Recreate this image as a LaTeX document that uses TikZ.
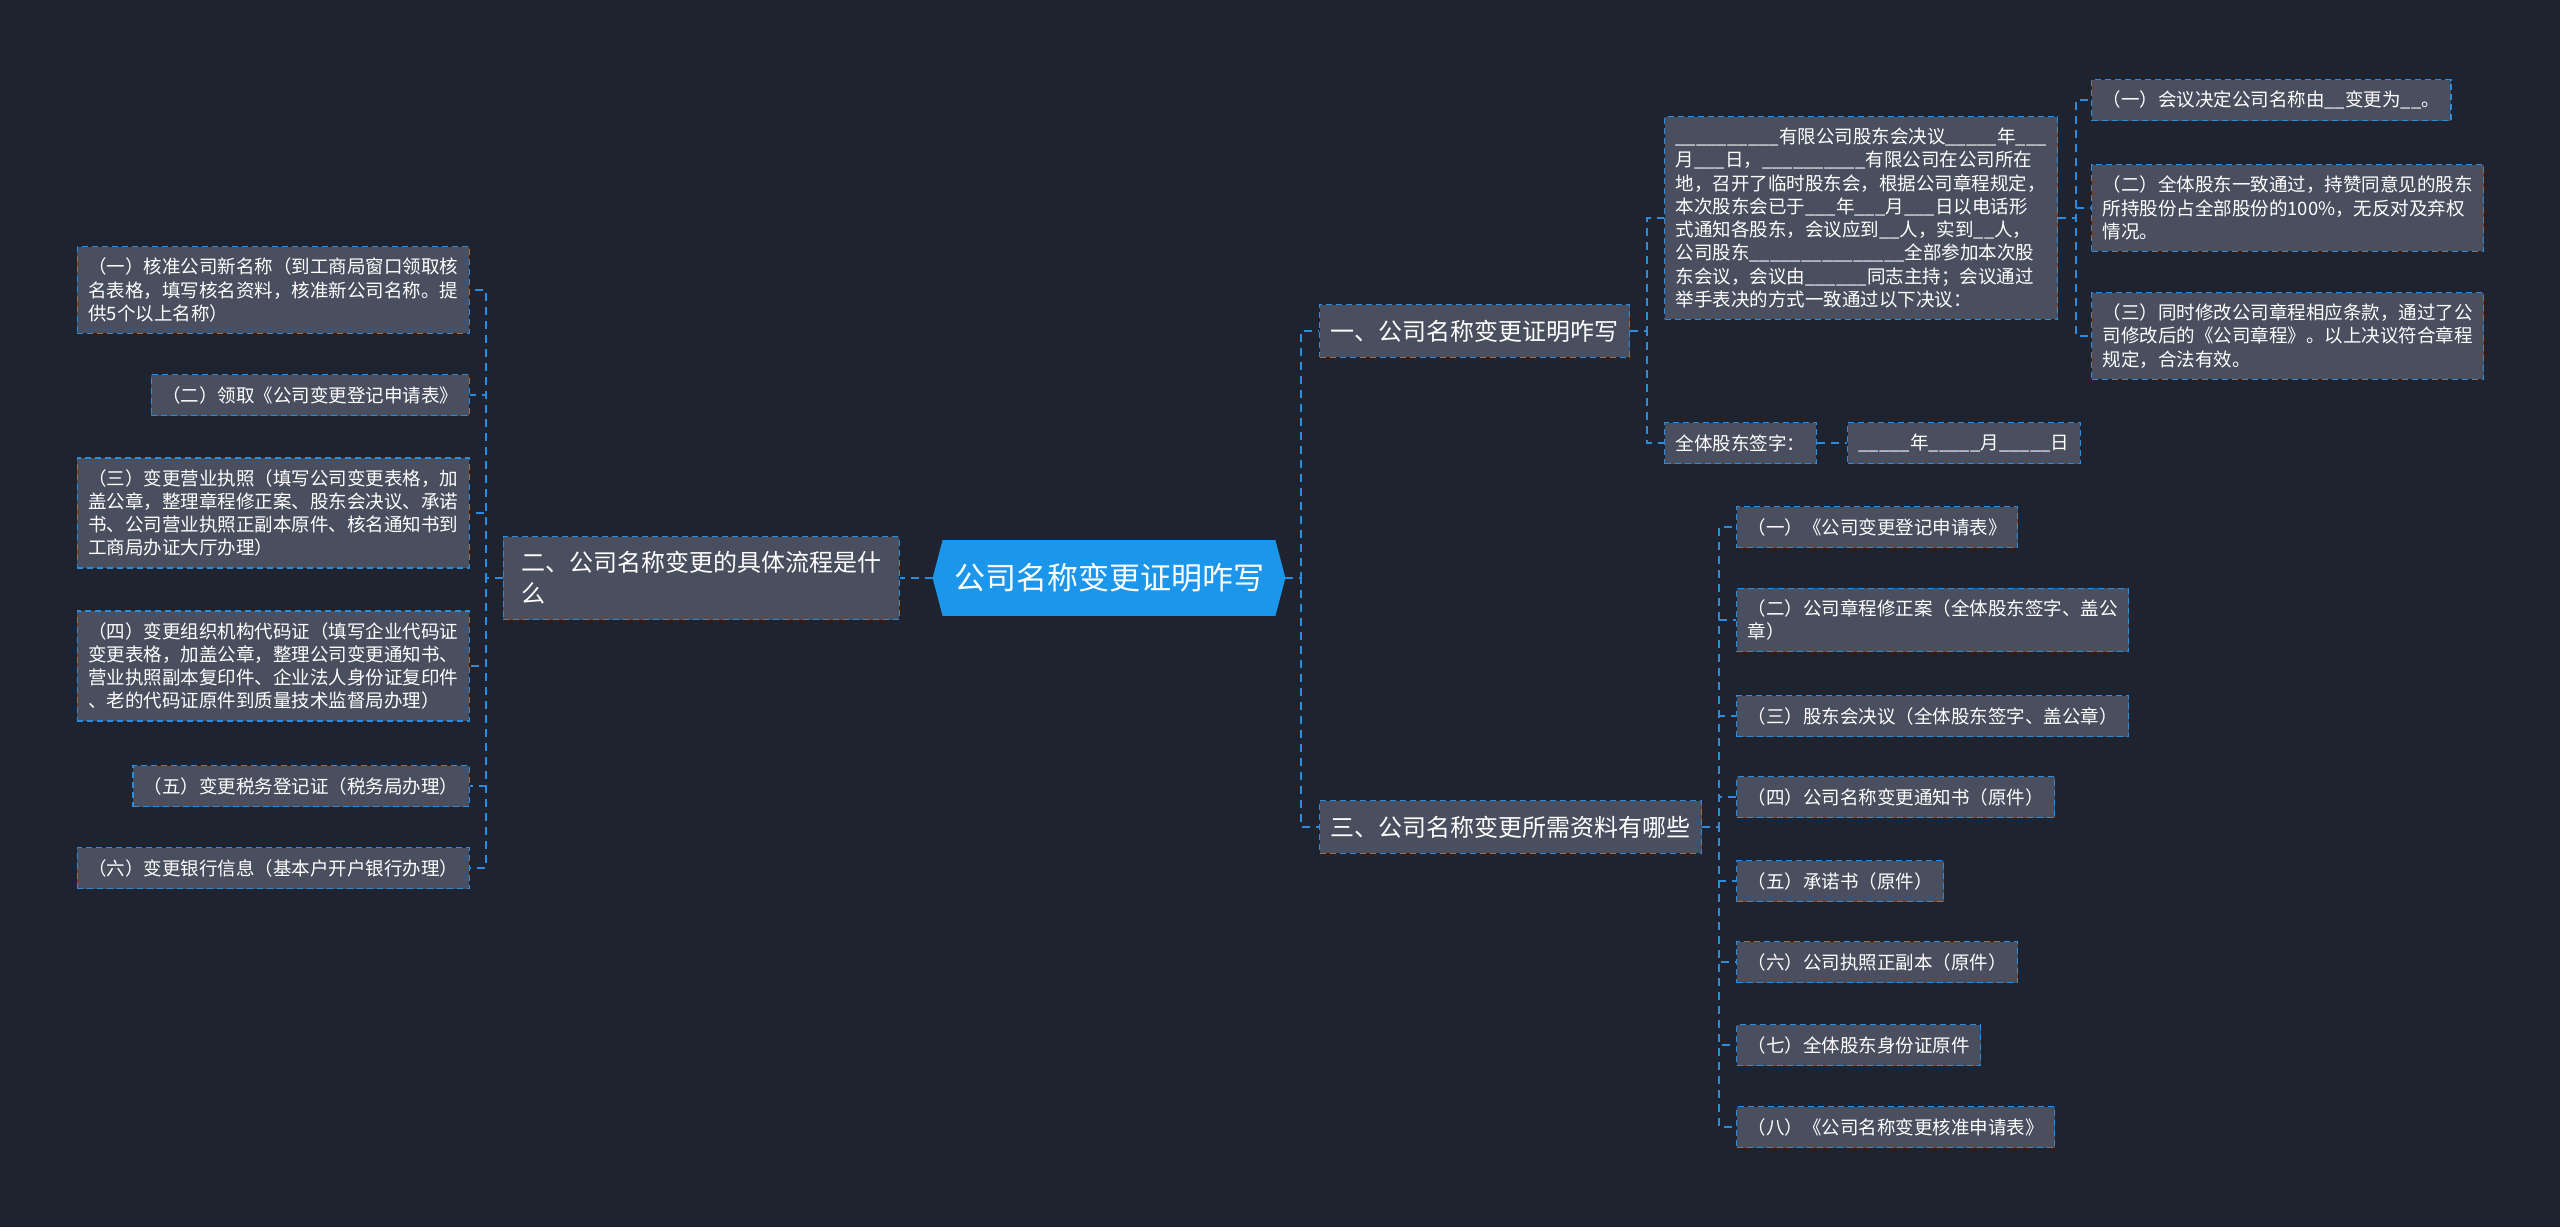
\documentclass[tikz,border=0pt]{standalone}
\usepackage{fontspec}
\setmainfont{Noto Sans CJK SC}
\usetikzlibrary{backgrounds}
\definecolor{bgc}{RGB}{31,35,47}
\definecolor{boxc}{RGB}{73,79,95}
\definecolor{linec}{RGB}{42,140,222}
\definecolor{rootc}{RGB}{27,150,234}
\tikzset{
  leaf/.style={draw=linec, fill=boxc, dash pattern=on 3pt off 2pt, line width=0.6pt,
    text=white, align=left, inner xsep=5.5pt, inner ysep=5.6pt, minimum height=20.5pt,
    font=\fontsize{9.25}{11.65}\selectfont},
  branch/.style={leaf, inner ysep=7.5pt, font=\fontsize{12}{15.5}\selectfont},
  rootnode/.style={text=white, minimum width=176pt, minimum height=37.5pt, inner sep=0pt,
    font=\fontsize{15.5}{18}\selectfont},
  conn/.style={draw=linec, line width=1pt, dash pattern=on 4pt off 3pt},
}
\begin{document}
\begin{tikzpicture}[x=0.5pt, y=-0.5pt]
\useasboundingbox (0,0) rectangle (2560,1227);
% root
\node[rootnode] (root) at (1109,578) {公司名称变更证明咋写};
% left branch
\node[branch, anchor=east, minimum width=198pt] (b2) at (900,578) {二、公司名称变更的具体流程是什\\么};
\node[leaf, anchor=east] (l1) at (470,290) {（一）核准公司新名称（到工商局窗口领取核\\名表格，填写核名资料，核准新公司名称。提\\供5个以上名称）};
\node[leaf, anchor=east] (l2) at (470,395) {（二）领取《公司变更登记申请表》};
\node[leaf, anchor=east] (l3) at (470,513) {（三）变更营业执照（填写公司变更表格，加\\盖公章，整理章程修正案、股东会决议、承诺\\书、公司营业执照正副本原件、核名通知书到\\工商局办证大厅办理）};
\node[leaf, anchor=east] (l4) at (470,666) {（四）变更组织机构代码证（填写企业代码证\\变更表格，加盖公章，整理公司变更通知书、\\营业执照副本复印件、企业法人身份证复印件\\、老的代码证原件到质量技术监督局办理）};
\node[leaf, anchor=east] (l5) at (470,786) {（五）变更税务登记证（税务局办理）};
\node[leaf, anchor=east] (l6) at (470,868) {（六）变更银行信息（基本户开户银行办理）};
% right branches
\node[branch, anchor=west] (b1) at (1319,331) {一、公司名称变更证明咋写};
\node[branch, anchor=west] (b3) at (1319,827) {三、公司名称变更所需资料有哪些};
% branch 1 children
\node[leaf, anchor=west] (r0) at (1664,218) {\_\_\_\_\_\_\_\_\_\_有限公司股东会决议\_\_\_\_\_年\_\_\_\\月\_\_\_日，\_\_\_\_\_\_\_\_\_\_有限公司在公司所在\\地，召开了临时股东会，根据公司章程规定，\\本次股东会已于\_\_\_年\_\_\_月\_\_\_日以电话形\\式通知各股东，会议应到\_\_人，实到\_\_人，\\公司股东\_\_\_\_\_\_\_\_\_\_\_\_\_\_\_全部参加本次股\\东会议，会议由\_\_\_\_\_\_同志主持；会议通过\\举手表决的方式一致通过以下决议：};
\node[leaf, anchor=west] (sig) at (1664,443) {全体股东签字：};
\node[leaf, anchor=west] (date) at (1847,443) {\_\_\_\_\_年\_\_\_\_\_月\_\_\_\_\_日};
\node[leaf, anchor=west] (r1) at (2091,100) {（一）会议决定公司名称由\_\_变更为\_\_。};
\node[leaf, anchor=west] (r2) at (2091,208) {（二）全体股东一致通过，持赞同意见的股东\\所持股份占全部股份的100\%，无反对及弃权\\情况。};
\node[leaf, anchor=west] (r3) at (2091,336) {（三）同时修改公司章程相应条款，通过了公\\司修改后的《公司章程》。以上决议符合章程\\规定，合法有效。};
% branch 3 children
\node[leaf, anchor=west] (c1) at (1736,527) {（一）《公司变更登记申请表》};
\node[leaf, anchor=west] (c2) at (1736,620) {（二）公司章程修正案（全体股东签字、盖公\\章）};
\node[leaf, anchor=west] (c3) at (1736,716) {（三）股东会决议（全体股东签字、盖公章）};
\node[leaf, anchor=west] (c4) at (1736,797) {（四）公司名称变更通知书（原件）};
\node[leaf, anchor=west] (c5) at (1736,881) {（五）承诺书（原件）};
\node[leaf, anchor=west] (c6) at (1736,962) {（六）公司执照正副本（原件）};
\node[leaf, anchor=west] (c7) at (1736,1045) {（七）全体股东身份证原件};
\node[leaf, anchor=west] (c8) at (1736,1127) {（八）《公司名称变更核准申请表》};
% connectors
\draw[conn] (root.west) -- (b2.east);
\foreach \n in {b1,b3} \draw[conn] (root.east) -- ++(16,0) |- (\n.west);
\foreach \n in {l1,l2,l3,l4,l5,l6} \draw[conn] (b2.west) -- ++(-17,0) |- (\n.east);
\foreach \n in {r0,sig} \draw[conn] (b1.east) -- ++(17,0) |- (\n.west);
\foreach \n in {r1,r2,r3} \draw[conn] (r0.east) -- ++(18,0) |- (\n.west);
\draw[conn] (sig.east) -- (date.west);
\foreach \n in {c1,c2,c3,c4,c5,c6,c7,c8} \draw[conn] (b3.east) -- ++(17,0) |- (\n.west);
% background and root shape
\begin{scope}[on background layer]
\fill[bgc] (0,0) rectangle (2560,1227);
\fill[rootc] ([xshift=5pt]root.north west) -- (root.west) -- ([xshift=5pt]root.south west)
  -- ([xshift=-5pt]root.south east) -- (root.east) -- ([xshift=-5pt]root.north east) -- cycle;
\end{scope}
\end{tikzpicture}
\end{document}
